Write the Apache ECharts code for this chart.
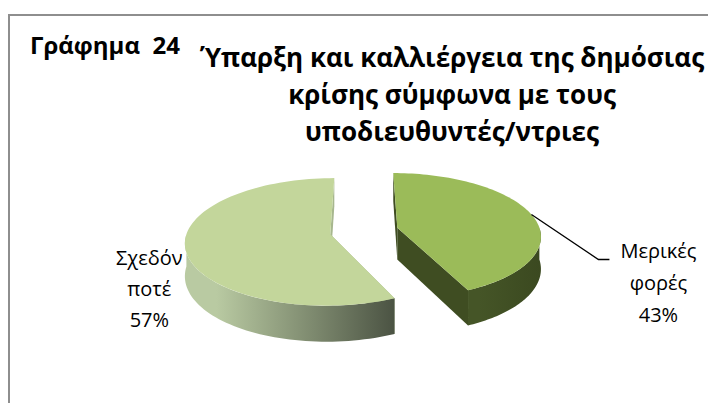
<!DOCTYPE html>
<html>
<head>
<meta charset="utf-8">
<script src="https://cdn.jsdelivr.net/npm/echarts@6/dist/echarts.min.js"></script>
<style>
  html, body { margin: 0; padding: 0; background: #ffffff; }
  #chart { width: 708px; height: 403px; }
</style>
</head>
<body>
<div id="chart"></div>
<script>
// Data
const categories = ['Μερικές φορές', 'Σχεδόν ποτέ'];
const percentages = [43, 57];
const chartNumber = 'Γράφημα  24';
const titleLines = [
  'Ύπαρξη και καλλιέργεια της δημόσιας',
  'κρίσης σύμφωνα με τους',
  'υποδιευθυντές/ντριες'
];

// Slice styling (top face, outer wall, cut faces)
const palette = [
  { top: '#9BBB59', wall: ['#455527', '#3B4920'], face: '#3F4D22' },
  { top: '#C3D69B', wall: ['#B9CAA2', '#4B5343'], face: '#A7B78E' }
];

// Pie geometry in pixels
const geo = {
  cx: 364, cy: 231,      // centre of the unexploded top face
  rx: 143, ry: 63,       // ellipse radii of the top face
  depth: 32,             // slice thickness
  explode: 0.24,         // explode distance (fraction of radius)
  persp: 0.12            // mild perspective: nearer points grow
};
const labelFont = '20px "Open Sans"';

const total = percentages.reduce((a, b) => a + b, 0);
let running = 0;
const pieData = percentages.map((v, i) => {
  const item = { name: categories[i], value: [v, running] };
  running += v;
  return item;
});

function proj(X, D, drop) {
  const s = 1 + geo.persp * D;
  return [geo.cx + geo.rx * X * s, geo.cy + geo.ry * D * s + drop * s];
}

function renderSlice(params, api) {
  const idx = params.dataIndex;
  const value = api.value(0);
  const before = api.value(1);
  const a0 = before / total * Math.PI * 2;         // clockwise from 12 o'clock
  const a1 = (before + value) / total * Math.PI * 2;
  const am = (a0 + a1) / 2;
  const ox = geo.explode * Math.sin(am);
  const od = -geo.explode * Math.cos(am);
  const rim = (a, drop) => proj(ox + Math.sin(a), od - Math.cos(a), drop);
  const ctr = (drop) => proj(ox, od, drop);
  const col = palette[idx];
  const children = [];

  // cut faces
  [a0, a1].forEach(a => {
    children.push({
      type: 'polygon',
      shape: { points: [ctr(0), rim(a, 0), rim(a, geo.depth), ctr(geo.depth)] },
      style: { fill: col.face }
    });
  });

  // outer wall: front half only
  const w0 = Math.max(a0, Math.PI / 2);
  const w1 = Math.min(a1, Math.PI * 1.5);
  if (w1 > w0) {
    const n = 60;
    const topArc = [], botArc = [];
    for (let k = 0; k <= n; k++) {
      const a = w0 + (w1 - w0) * k / n;
      topArc.push(rim(a, 0));
      botArc.push(rim(a, geo.depth));
    }
    children.push({
      type: 'polygon',
      shape: { points: topArc.concat(botArc.reverse()) },
      style: {
        fill: {
          type: 'linear', x: 0, y: 0, x2: 1, y2: 0,
          colorStops: [
            { offset: 0, color: col.wall[0] },
            { offset: 0.15, color: col.wall[0] },
            { offset: 1, color: col.wall[1] }
          ]
        }
      }
    });
  }

  // top face
  const topPts = [ctr(0)];
  const m = 90;
  for (let k = 0; k <= m; k++) {
    topPts.push(rim(a0 + (a1 - a0) * k / m, 0));
  }
  children.push({ type: 'polygon', shape: { points: topPts }, style: { fill: col.top } });

  // data label
  const labelText = categories[idx].split(' ').join('\n') + '\n' + value + '%';
  const p = rim(am, 0);
  if (Math.sin(am) > 0) {
    const elbow = [p[0] + 67, p[1] + 45];
    const end = [elbow[0] + 11, elbow[1]];
    children.push({
      type: 'polyline',
      shape: { points: [p, elbow, end] },
      style: { stroke: '#000000', lineWidth: 1.3, fill: null }
    });
    children.push({
      type: 'text',
      x: end[0] + 49, y: end[1] + 23,
      style: { text: labelText, font: labelFont, fill: '#000000',
               align: 'center', verticalAlign: 'middle', lineHeight: 32 }
    });
  } else {
    children.push({
      type: 'text',
      x: p[0] - 36, y: p[1] + 40,
      style: { text: labelText, font: labelFont, fill: '#000000',
               align: 'center', verticalAlign: 'middle', lineHeight: 31 }
    });
  }

  return { type: 'group', children: children };
}

const chart = echarts.init(document.getElementById('chart'), null, { renderer: 'svg' });
chart.setOption({
  animation: false,
  backgroundColor: '#ffffff',
  graphic: [
    {
      type: 'rect',
      shape: { x: 9, y: 15, width: 760, height: 460 },
      style: { fill: null, stroke: '#8e8e8e', lineWidth: 2 }
    },
    {
      type: 'text', x: 30, y: 44,
      style: { text: chartNumber, font: 'bold 24px "Open Sans"', fill: '#000000',
               align: 'left', verticalAlign: 'middle' }
    },
    {
      type: 'text', x: 452, y: 57 - 18.5,
      style: { text: titleLines.join('\n'), font: 'bold 26px "Open Sans"', fill: '#000000',
               align: 'center', verticalAlign: 'top', lineHeight: 37 }
    }
  ],
  series: [{
    type: 'custom',
    coordinateSystem: 'none',
    silent: true,
    renderItem: renderSlice,
    data: pieData
  }]
});
</script>
</body>
</html>
